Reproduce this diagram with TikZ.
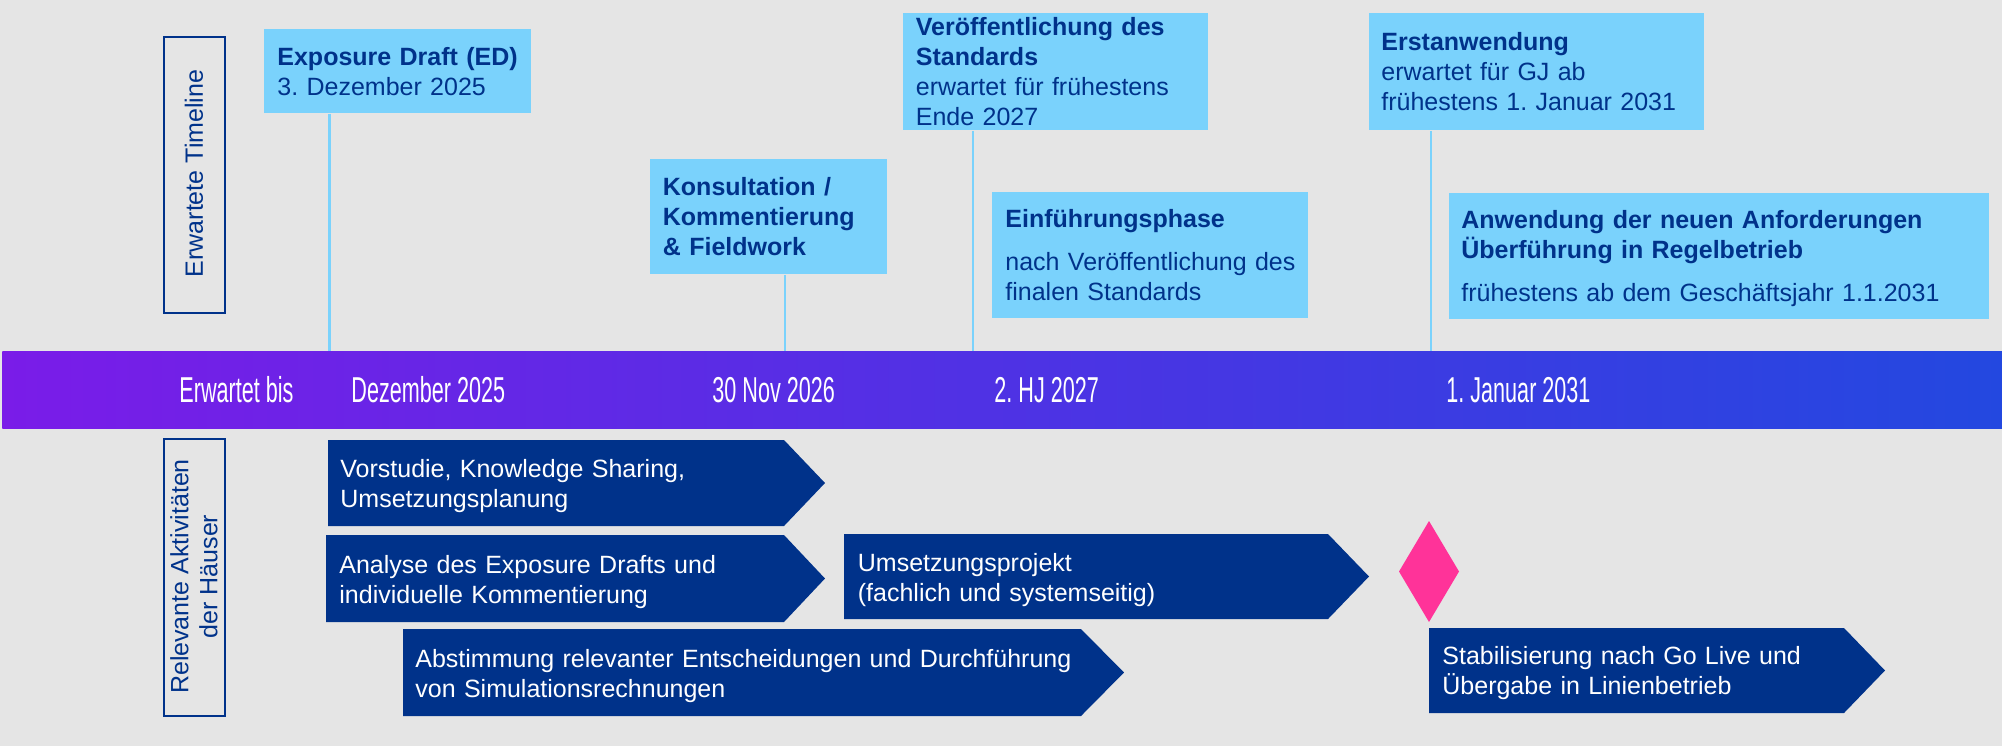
\documentclass[tikz,border=0pt]{standalone}
\usepackage{fontspec}
\setmainfont{Liberation Sans}
\newfontfamily\barfont[FakeStretch=0.6]{Liberation Sans}
\usetikzlibrary{calc}
\definecolor{bg}{RGB}{229,229,229}
\definecolor{navy}{RGB}{0,50,138}
\definecolor{sky}{RGB}{122,210,252}
\definecolor{barL}{RGB}{122,28,232}
\definecolor{barR}{RGB}{35,72,224}
\definecolor{pinkd}{RGB}{255,51,153}
\frenchspacing
\begin{document}
\begin{tikzpicture}[x=0.5pt,y=-0.5pt,
  tlbox/.style={fill=sky, draw=none, inner sep=0pt, anchor=north west},
  tltext/.style={anchor=base west, inner sep=0pt, align=left, text=navy, font=\fontsize{12.5}{15}\selectfont},
  acttext/.style={anchor=base west, inner sep=0pt, align=left, text=white, font=\fontsize{12.5}{15}\selectfont},
  barlabel/.style={anchor=base west, inner sep=0pt, text=white, font=\barfont\fontsize{18}{20}\selectfont},
  sidebox/.style={draw=navy, line width=1pt, inner sep=0pt, anchor=north west},
  sidetext/.style={rotate=90, align=center, text=navy, inner sep=0pt, font=\fontsize{12.5}{14.5}\selectfont},
  conn/.style={draw=sky, line width=1.4pt},
  chevron/.style={fill=navy, draw=none},
]
\useasboundingbox (0,0) rectangle (2002,746);
\fill[bg] (0,0) rectangle (2002,746);

% timeline bar
\node[anchor=north west, minimum width=1000pt, minimum height=38.5pt, inner sep=0pt,
      left color=barL, right color=barR, draw=none] (bar) at (2,351) {};
\node[barlabel] (bl1) at (179,402) {Erwartet bis};
\node[barlabel] (bl2) at (351,402) {Dezember 2025};
\node[barlabel] (bl3) at (712,402) {30 Nov 2026};
\node[barlabel] (bl4) at (994,402) {2. HJ 2027};
\node[barlabel] (bl5) at (1446,402) {1. Januar 2031};

% side labels
\node[sidebox, minimum width=30.5pt, minimum height=138pt] (etbox) at (163,36) {};
\node[sidetext] (ett) at (194,173.5) {Erwartete Timeline};
\node[sidebox, minimum width=30.5pt, minimum height=138.5pt] (rabox) at (163,438) {};
\node[sidetext] (rat) at (194,576.5) {Relevante Aktivitäten\\der Häuser};

% timeline boxes
\node[tlbox, minimum width=133.5pt, minimum height=42pt] (ed) at (264,29) {};
\node[tltext, text width=125pt] (edt) at (277,65) {\textbf{Exposure Draft (ED)}\\3. Dezember 2025};

\node[tlbox, minimum width=118.5pt, minimum height=57.5pt] (ko) at (650,159) {};
\node[tltext, text width=110pt] (kot) at (662.5,195.5) {\textbf{Konsultation /}\\\textbf{Kommentierung}\\\textbf{\& Fieldwork}};

\node[tlbox, minimum width=152.5pt, minimum height=58.5pt] (ve) at (903,13) {};
\node[tltext, text width=145pt] (vet) at (915.5,35.5) {\textbf{Veröffentlichung des}\\\textbf{Standards}\\erwartet für frühestens\\Ende 2027};

\node[tlbox, minimum width=158pt, minimum height=63pt] (ei) at (992,192) {};
\node[tltext, text width=150pt] (eit) at (1005,227.5) {\textbf{Einführungsphase}\\[6.5pt]nach Veröffentlichung des\\finalen Standards};

\node[tlbox, minimum width=167.5pt, minimum height=58.5pt] (er) at (1369,13) {};
\node[tltext, text width=160pt] (ert) at (1381,50.5) {\textbf{Erstanwendung}\\erwartet für GJ ab\\frühestens 1. Januar 2031};

\node[tlbox, minimum width=270pt, minimum height=63pt] (an) at (1449,193) {};
\node[tltext, text width=262pt] (ant) at (1461,228.5) {\textbf{Anwendung der neuen Anforderungen}\\\textbf{Überführung in Regelbetrieb}\\[6.25pt]frühestens ab dem Geschäftsjahr 1.1.2031};

% connectors
\coordinate (edc) at ($(ed.south west)+(65.5,0)$);
\coordinate (koc) at ($(ko.south west)+(135,0)$);
\coordinate (vec) at ($(ve.south west)+(70,0)$);
\coordinate (erc) at ($(er.south west)+(62,0)$);
\draw[conn] (edc) -- (edc |- bar.north);
\draw[conn] (koc) -- (koc |- bar.north);
\draw[conn] (vec) -- (vec |- bar.north);
\draw[conn] (erc) -- (erc |- bar.north);

% activities
\fill[navy] (328,440) -- (784,440) -- (825,483) -- (784,526) -- (328,526) -- cycle;
\node[acttext, text width=220pt] (a1) at (340,477) {Vorstudie, Knowledge Sharing,\\Umsetzungsplanung};

\fill[navy] (326,535) -- (784,535) -- (825,578.5) -- (784,622) -- (326,622) -- cycle;
\node[acttext, text width=220pt] (a2) at (339,573) {Analyse des Exposure Drafts und\\individuelle Kommentierung};

\fill[navy] (403,629) -- (1081,629) -- (1124,672.5) -- (1081,716) -- (403,716) -- cycle;
\node[acttext, text width=340pt] (a3) at (415,667) {Abstimmung relevanter Entscheidungen und Durchführung\\von Simulationsrechnungen};

\fill[navy] (844,534) -- (1328,534) -- (1369,576.5) -- (1328,619) -- (844,619) -- cycle;
\node[acttext, text width=230pt] (a4) at (857.5,571) {Umsetzungsprojekt\\(fachlich und systemseitig)};

\fill[navy] (1429,628) -- (1844,628) -- (1885,670.5) -- (1844,713) -- (1429,713) -- cycle;
\node[acttext, text width=200pt] (a5) at (1442,664) {Stabilisierung nach Go Live und\\Übergabe in Linienbetrieb};

% milestone diamond
\fill[pinkd] (1429,521) -- (1459,571.5) -- (1429,622) -- (1399,571.5) -- cycle;
\end{tikzpicture}
\end{document}
